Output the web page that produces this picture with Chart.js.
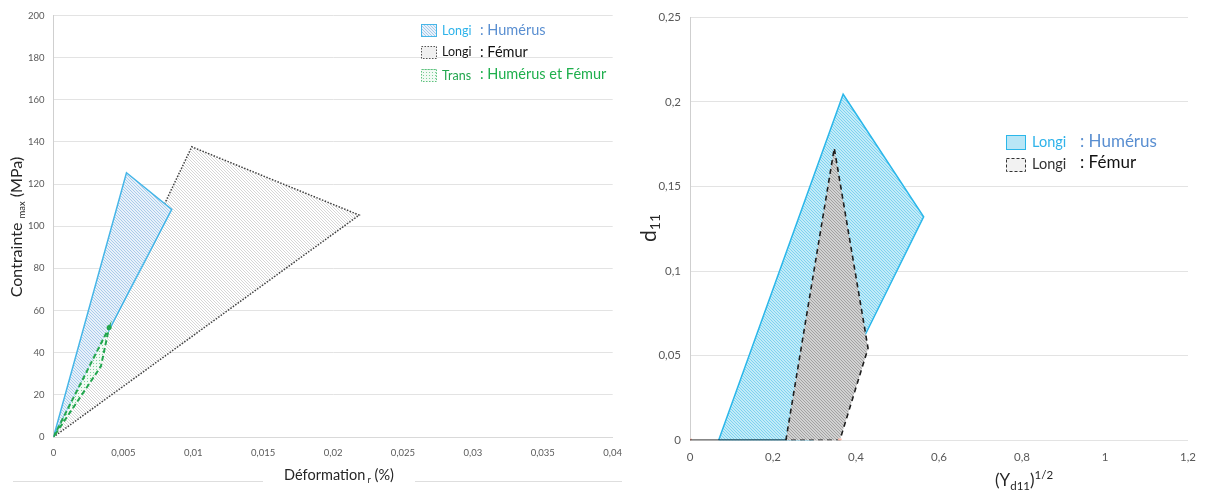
<!DOCTYPE html>
<html>
<head>
<meta charset="utf-8">
<script src="https://cdn.jsdelivr.net/npm/chart.js@4.4.1/dist/chart.umd.min.js"></script>
<style>
html, body { margin: 0; padding: 0; background: #fff; }
#wrap { position: relative; width: 1206px; height: 490px; overflow: hidden; }
#left { position: absolute; left: 0; top: 0; }
#right { position: absolute; left: 640px; top: 0; }
</style>
</head>
<body>
<div id="wrap">
  <canvas id="left" width="632" height="490"></canvas>
  <canvas id="right" width="566" height="490"></canvas>
</div>
<script>
// ---- left chart: contrainte max vs deformation ----
const strainTicks = [0, 0.005, 0.01, 0.015, 0.02, 0.025, 0.03, 0.035, 0.04];
const stressTicks = [0, 20, 40, 60, 80, 100, 120, 140, 160, 180, 200];

const humLongiStrain = [0, 0.00522, 0.00846, 0];
const humLongiStress = [0, 125.4, 108, 0];
const femLongiStrain = [0, 0.00989, 0.02187, 0];
const femLongiStress = [0, 137.7, 105.3, 0];
const transStrain = [0, 0.00398, 0.00339, 0];
const transStress = [0, 52, 33.5, 0];

// ---- right chart: d11 vs (Yd11)^1/2 ----
const ydTicks = [0, 0.2, 0.4, 0.6, 0.8, 1, 1.2];
const dTicks = [0, 0.05, 0.1, 0.15, 0.2, 0.25];

const humYd = [0.069, 0.369, 0.563, 0.296, 0.069];
const humD = [0, 0.2045, 0.1321, 0, 0];
const femYd = [0.231, 0.3476, 0.429, 0.361, 0.231];
const femD = [0, 0.1726, 0.0544, 0, 0];
const baseYd = [0, 0.231];
const baseD = [0, 0];
const markYd = [0, 0.361];
const markD = [0, 0];

const FONT = "Lato, 'Open Sans', sans-serif";

function pts(xs, ys) {
    return xs.map((x, i) => ({ x: x, y: ys[i] }));
}

function fmt(v) {
    return String(v).replace(".", ",");
}

// diagonal hatch pattern
function hatch(bg, line, step, lw) {
    const c = document.createElement("canvas");
    c.width = step; c.height = step;
    const g = c.getContext("2d");
    g.fillStyle = bg;
    g.fillRect(0, 0, step, step);
    g.strokeStyle = line;
    g.lineWidth = lw;
    g.beginPath();
    g.moveTo(-1, -1); g.lineTo(step + 1, step + 1);
    g.moveTo(-1, step - 1); g.lineTo(1, step + 1);
    g.moveTo(step - 1, -1); g.lineTo(step + 1, 1);
    g.stroke();
    return g.createPattern(c, "repeat");
}

function dots(bg, dot, step) {
    const c = document.createElement("canvas");
    c.width = step; c.height = step;
    const g = c.getContext("2d");
    g.fillStyle = bg;
    g.fillRect(0, 0, step, step);
    g.fillStyle = dot;
    g.fillRect(0, 0, 1, 1);
    return g.createPattern(c, "repeat");
}

// text with sub/superscript parts: [text, size, dy, color]
function richText(ctx, parts, cx, cy) {
    let w = 0;
    parts.forEach(p => { ctx.font = p[1] + "px " + FONT; w += ctx.measureText(p[0]).width; });
    let x = cx - w / 2;
    ctx.textBaseline = "alphabetic";
    ctx.textAlign = "left";
    parts.forEach(p => {
        ctx.font = p[1] + "px " + FONT;
        ctx.fillStyle = p[3];
        ctx.fillText(p[0], x, cy + p[2]);
        x += ctx.measureText(p[0]).width;
    });
}

function legendBox(ctx, x, y, w, h, fill, stroke, dash) {
    ctx.save();
    ctx.fillStyle = fill;
    ctx.fillRect(x, y, w, h);
    ctx.strokeStyle = stroke;
    ctx.lineWidth = 1;
    ctx.setLineDash(dash);
    ctx.strokeRect(x + 0.5, y + 0.5, w - 1, h - 1);
    ctx.restore();
}

function legendText(ctx, text, x, y, size, color) {
    ctx.font = size + "px " + FONT;
    ctx.fillStyle = color;
    ctx.textAlign = "left";
    ctx.textBaseline = "middle";
    ctx.fillText(text, x, y);
}

// fills the closed outline of a dataset with its pattern
const polyFill = {
    id: "polyFill",
    beforeDatasetDraw(chart, args) {
        const ds = chart.data.datasets[args.index];
        if (!ds.areaFill) return;
        const p = args.meta.data;
        const ctx = chart.ctx;
        ctx.save();
        ctx.beginPath();
        p.forEach((e, i) => i ? ctx.lineTo(e.x, e.y) : ctx.moveTo(e.x, e.y));
        ctx.closePath();
        ctx.fillStyle = ds.areaFill;
        ctx.fill();
        ctx.restore();
    }
};

function axes(xTicks, yTicks, yW, xH, fontSize) {
    return {
        x: {
            type: "linear",
            min: xTicks[0], max: xTicks[xTicks.length - 1],
            afterBuildTicks: s => { s.ticks = xTicks.map(v => ({ value: v })); },
            afterFit: s => { s.height = xH; },
            grid: { display: false, drawTicks: false },
            border: { display: true, color: "#d9d9d9" },
            ticks: { callback: fmt, color: "#595959", padding: 10, maxRotation: 0,
                font: { family: FONT, size: fontSize } }
        },
        y: {
            type: "linear",
            min: yTicks[0], max: yTicks[yTicks.length - 1],
            afterBuildTicks: s => { s.ticks = yTicks.map(v => ({ value: v })); },
            afterFit: s => { s.width = yW; },
            grid: { color: "#e3e3e3", drawTicks: false },
            border: { display: true, color: "#cfcfcf" },
            ticks: { callback: fmt, color: "#595959", padding: 9,
                font: { family: FONT, size: fontSize } }
        }
    };
}

// ---------- left chart ----------
const lctx = document.getElementById("left").getContext("2d");
const blueHatch = hatch("#e8f1fa", "#a9cbea", 3, 1);
const greyHatch = hatch("#ffffff", "#d6d6d6", 3, 1);
const greenDots = dots("#f2faf4", "#7fd09a", 3);

new Chart(lctx, {
    type: "scatter",
    data: {
        datasets: [
            {
                label: "Trans",
                data: pts(transStrain, transStress),
                showLine: true, order: 0, areaFill: greenDots,
                borderColor: "#22a64e", borderWidth: 2, borderDash: [5, 3],
                pointRadius: [0, 2.5, 0, 0], pointBackgroundColor: "#22a64e", pointBorderWidth: 0
            },
            {
                label: "Longi Humérus",
                data: pts(humLongiStrain, humLongiStress),
                showLine: true, order: 1, areaFill: blueHatch,
                borderColor: "#46b6e8", borderWidth: 1.5, pointRadius: 0
            },
            {
                label: "Longi Fémur",
                data: pts(femLongiStrain, femLongiStress),
                showLine: true, order: 2, areaFill: greyHatch,
                borderColor: "#404040", borderWidth: 1.5, borderDash: [1.5, 1.5], pointRadius: 0
            }
        ]
    },
    options: {
        responsive: false,
        animation: false,
        layout: { padding: { top: 15.5, right: 10, left: 0, bottom: 0 } },
        plugins: { legend: { display: false }, tooltip: { enabled: false } },
        scales: axes(strainTicks, stressTicks, 53.5, 53, 9.5)
    },
    plugins: [polyFill, {
        id: "leftDeco",
        afterDraw(chart) {
            const ctx = chart.ctx;
            ctx.save();
            // axis titles
            ctx.translate(22, 227);
            ctx.rotate(-Math.PI / 2);
            richText(ctx, [["Contrainte ", 16, 0, "#262626"], ["max", 9.5, 3, "#262626"], [" (MPa)", 16, 0, "#262626"]], 0, 0);
            ctx.restore();
            ctx.save();
            richText(ctx, [["Déformation", 14.5, 0, "#262626"], [" r", 9, 3, "#262626"], [" (%)", 14.5, 0, "#262626"]], 339, 480);
            // bottom frame lines
            ctx.strokeStyle = "#dedede";
            ctx.lineWidth = 1;
            ctx.beginPath();
            ctx.moveTo(13, 481.5); ctx.lineTo(263, 481.5);
            ctx.moveTo(415, 481.5); ctx.lineTo(622, 481.5);
            ctx.stroke();
            // legend
            legendBox(ctx, 421, 24, 16, 13, blueHatch, "#46b6e8", []);
            legendText(ctx, "Longi", 442, 30.5, 12.5, "#2fb3ea");
            legendText(ctx, ": Humérus", 480, 30.5, 14.5, "#5a8fd1");
            legendBox(ctx, 421, 46, 16, 13, "#f0f0f0", "#555555", [1.5, 1.5]);
            legendText(ctx, "Longi", 442, 52, 12.5, "#1a1a1a");
            legendText(ctx, ": Fémur", 480, 52.5, 14.5, "#111111");
            legendBox(ctx, 421, 69, 16, 13, greenDots, "#5fc27f", [1.5, 1.5]);
            legendText(ctx, "Trans", 442, 76, 12.5, "#22a64e");
            legendText(ctx, ": Humérus et Fémur", 480, 74.5, 14.5, "#1faf4d");
            ctx.restore();
        }
    }]
});

// ---------- right chart ----------
const rctx = document.getElementById("right").getContext("2d");
const cyanHatch = hatch("#c2ebf8", "#7ed2ef", 3, 1);
const darkHatch = hatch("#d2d2d2", "#a2a2a2", 3, 1);

new Chart(rctx, {
    type: "scatter",
    data: {
        datasets: [
            {
                label: "base",
                data: pts(baseYd, baseD),
                showLine: true, order: 0,
                borderColor: "#111111", borderWidth: 1.5, pointRadius: 0
            },
            {
                label: "markers",
                data: pts(markYd, markD),
                showLine: false, order: 0,
                pointStyle: "rect", pointRadius: 2.5,
                pointBackgroundColor: "#f6b9aa", pointBorderWidth: 0
            },
            {
                label: "Longi Fémur",
                data: pts(femYd, femD),
                showLine: true, order: 1, areaFill: darkHatch,
                borderColor: "#1e1e1e", borderWidth: 1.6, borderDash: [5, 4], pointRadius: 0
            },
            {
                label: "Longi Humérus",
                data: pts(humYd, humD),
                showLine: true, order: 2, areaFill: cyanHatch,
                borderColor: "#2bb7ea", borderWidth: 1.5, pointRadius: 0
            }
        ]
    },
    options: {
        responsive: false,
        animation: false,
        layout: { padding: { top: 17.3, right: 13, left: 0, bottom: 0 } },
        plugins: { legend: { display: false }, tooltip: { enabled: false } },
        scales: (() => {
            const s = axes(ydTicks, dTicks, 50, 49.7, 11.5);
            s.x.border.display = false;
            return s;
        })()
    },
    plugins: [polyFill, {
        id: "rightDeco",
        afterDraw(chart) {
            const ctx = chart.ctx;
            ctx.save();
            ctx.translate(16, 228);
            ctx.rotate(-Math.PI / 2);
            richText(ctx, [["d", 21, 0, "#262626"], ["11", 14, 4, "#262626"]], 0, 0);
            ctx.restore();
            ctx.save();
            richText(ctx, [["(Y", 17, 0, "#262626"], ["d11", 11.5, 4, "#262626"], [")", 17, 0, "#262626"], ["1/2", 11.5, -7, "#262626"]], 384, 486);
            // legend
            legendBox(ctx, 366, 135, 20, 15, "#b9e6f6", "#2bb7ea", []);
            legendText(ctx, "Longi", 392, 142, 14.5, "#2fb3ea");
            legendText(ctx, ": Humérus", 440, 141.5, 17, "#5a8fd1");
            legendBox(ctx, 366, 158, 20, 14, "#f2f2f2", "#333333", [3, 2]);
            legendText(ctx, "Longi", 392, 164, 14.5, "#333333");
            legendText(ctx, ": Fémur", 440, 163, 17, "#111111");
            ctx.restore();
        }
    }]
});
</script>
</body>
</html>
